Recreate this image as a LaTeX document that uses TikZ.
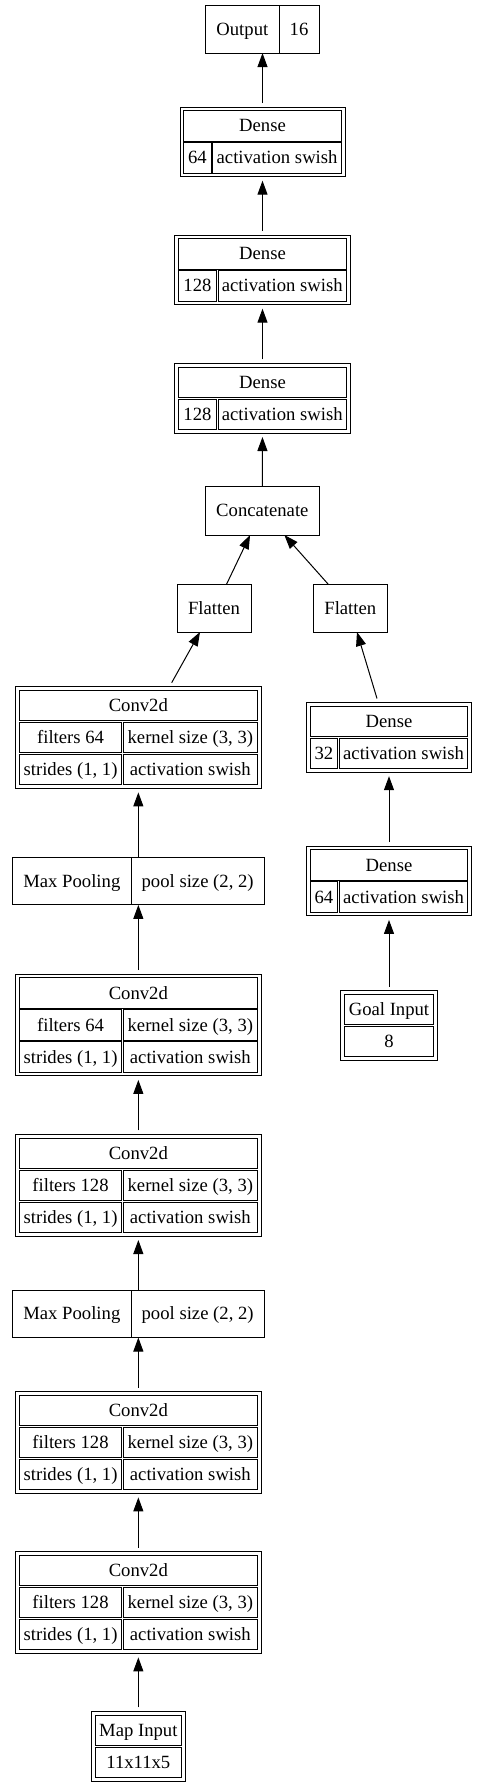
\documentclass[tikz,border=0pt]{standalone}
\usepackage{fontspec}
\setmainfont{Liberation Serif}
\usetikzlibrary{arrows.meta}

\tikzset{
  sz/.style 2 args={minimum width={(#1)*0.75pt}, minimum height={(#2)*0.75pt}},
  box/.style={draw, line width=0.75pt, inner sep=0pt, outer sep=0pt, text height=11.5pt, text depth=2.5pt},
  cell/.style={box},
  tbl/.style={draw, line width=0.75pt, inner sep=0pt, outer sep=3pt},
  conn/.style={-{Triangle[length=10.5pt,width=7.5pt]}, line width=0.75pt},
}

% name, centre x, top y, filters
\newcommand{\convlayer}[4]{%
  \node[tbl, sz={245.3}{101.7}] (#1) at (#2, #3+50.85) {};
  \node[cell, sz={237.9}{30.3}] (#1t) at (#2, #3+18.85) {Conv2d};
  \node[cell, sz={102.3}{30.3}] (#1f) at (#2-67.8, #3+50.85) {filters #4};
  \node[cell, sz={133.9}{30.3}] (#1k) at (#2+52, #3+50.85) {kernel size (3, 3)};
  \node[cell, sz={102.3}{30.3}] (#1s) at (#2-67.8, #3+82.85) {strides (1, 1)};
  \node[cell, sz={133.9}{30.3}] (#1a) at (#2+52, #3+82.85) {activation swish};
}
% name, centre x, top y, width of the units cell, units
\newcommand{\denselayer}[5]{%
  \node[tbl, sz={#4+137.5}{69.7}] (#1) at (#2, #3+34.85) {};
  \node[cell, sz={#4+130.1}{30.3}] (#1t) at (#2, #3+18.85) {Dense};
  \node[cell, sz={#4}{30.3}] (#1u) at (#2-65.05, #3+50.85) {#5};
  \node[cell, sz={128.4}{30.3}] (#1a) at (#2+#4/2+0.85, #3+50.85) {activation swish};
}
% name, centre x, top y, width, label, shape
\newcommand{\inputlayer}[6]{%
  \node[tbl, sz={#4}{69.7}] (#1) at (#2, #3+34.85) {};
  \node[cell, sz={#4-7.4}{30.3}] (#1t) at (#2, #3+18.85) {#5};
  \node[cell, sz={#4-7.4}{30.3}] (#1v) at (#2, #3+50.85) {#6};
}

\begin{document}
\begin{tikzpicture}[x=0.75pt, y=-0.75pt, font=\fontsize{14}{17}\selectfont]
\useasboundingbox[fill=white] (0,0) rectangle (488,1792);

\node[box, sz={73.3}{47.5}] (output) at (242.35, 29.35) {Output};
\node[box, sz={40}{47.5}, anchor=west] (outsize) at (output.east) {16};

\denselayer{dsa}{262.5}{107}{27.5}{64}
\denselayer{dsb}{262.5}{235}{37.8}{128}
\denselayer{dsc}{262.5}{363.3}{37.8}{128}

\node[box, sz={114}{48.3}] (concat) at (262.35, 510.85) {Concatenate};
\node[box, sz={74}{48}] (flatl) at (214, 608) {Flatten};
\node[box, sz={74}{48}] (flatr) at (350.3, 608) {Flatten};

\convlayer{conva}{138.35}{686.7}{64}
\node[box, sz={118.3}{47.5}] (mpa) at (71.85, 881.15) {Max Pooling};
\node[box, sz={133.3}{47.5}, anchor=west] (mpav) at (mpa.east) {pool size (2, 2)};
\convlayer{convb}{138.35}{974.2}{64}
\convlayer{convc}{138.35}{1134.3}{128}
\node[box, sz={118.3}{47.5}] (mpb) at (71.85, 1313.8) {Max Pooling};
\node[box, sz={133.3}{47.5}, anchor=west] (mpbv) at (mpb.east) {pool size (2, 2)};
\convlayer{convd}{138.35}{1391.7}{128}
\convlayer{conve}{138.35}{1551.7}{128}
\inputlayer{mapin}{138.35}{1711.3}{93.3}{Map Input}{11x11x5}

\denselayer{gdb}{389}{702.5}{27.5}{32}
\denselayer{gda}{389}{846.2}{27.5}{64}
\inputlayer{goal}{389}{990.5}{97}{Goal Input}{8}

\draw[conn] (dsa) -- (dsa |- output.south);
\draw[conn] (dsb) -- (dsa);
\draw[conn] (dsc) -- (dsb);
\draw[conn] (concat) -- (dsc);
\draw[conn] ([xshift=9.5pt]flatl.north) -- ([xshift=-9.2pt]concat.south);
\draw[conn] ([xshift=-16.7pt]flatr.north) -- ([xshift=16.5pt]concat.south);
\draw[conn] ([xshift=25pt]conva.north) -- ([xshift=-10.5pt]flatl.south);
\draw[conn] ([xshift=-9pt]gdb.north) -- ([xshift=5pt]flatr.south);
\draw[conn] (mpav.north -| conva) -- (conva);
\draw[conn] (convb) -- (convb |- mpav.south);
\draw[conn] (convc) -- (convb);
\draw[conn] (mpbv.north -| convc) -- (convc);
\draw[conn] (convd) -- (convd |- mpbv.south);
\draw[conn] (conve) -- (convd);
\draw[conn] (mapin) -- (conve);
\draw[conn] (gda) -- (gdb);
\draw[conn] (goal) -- (gda);
\end{tikzpicture}
\end{document}
